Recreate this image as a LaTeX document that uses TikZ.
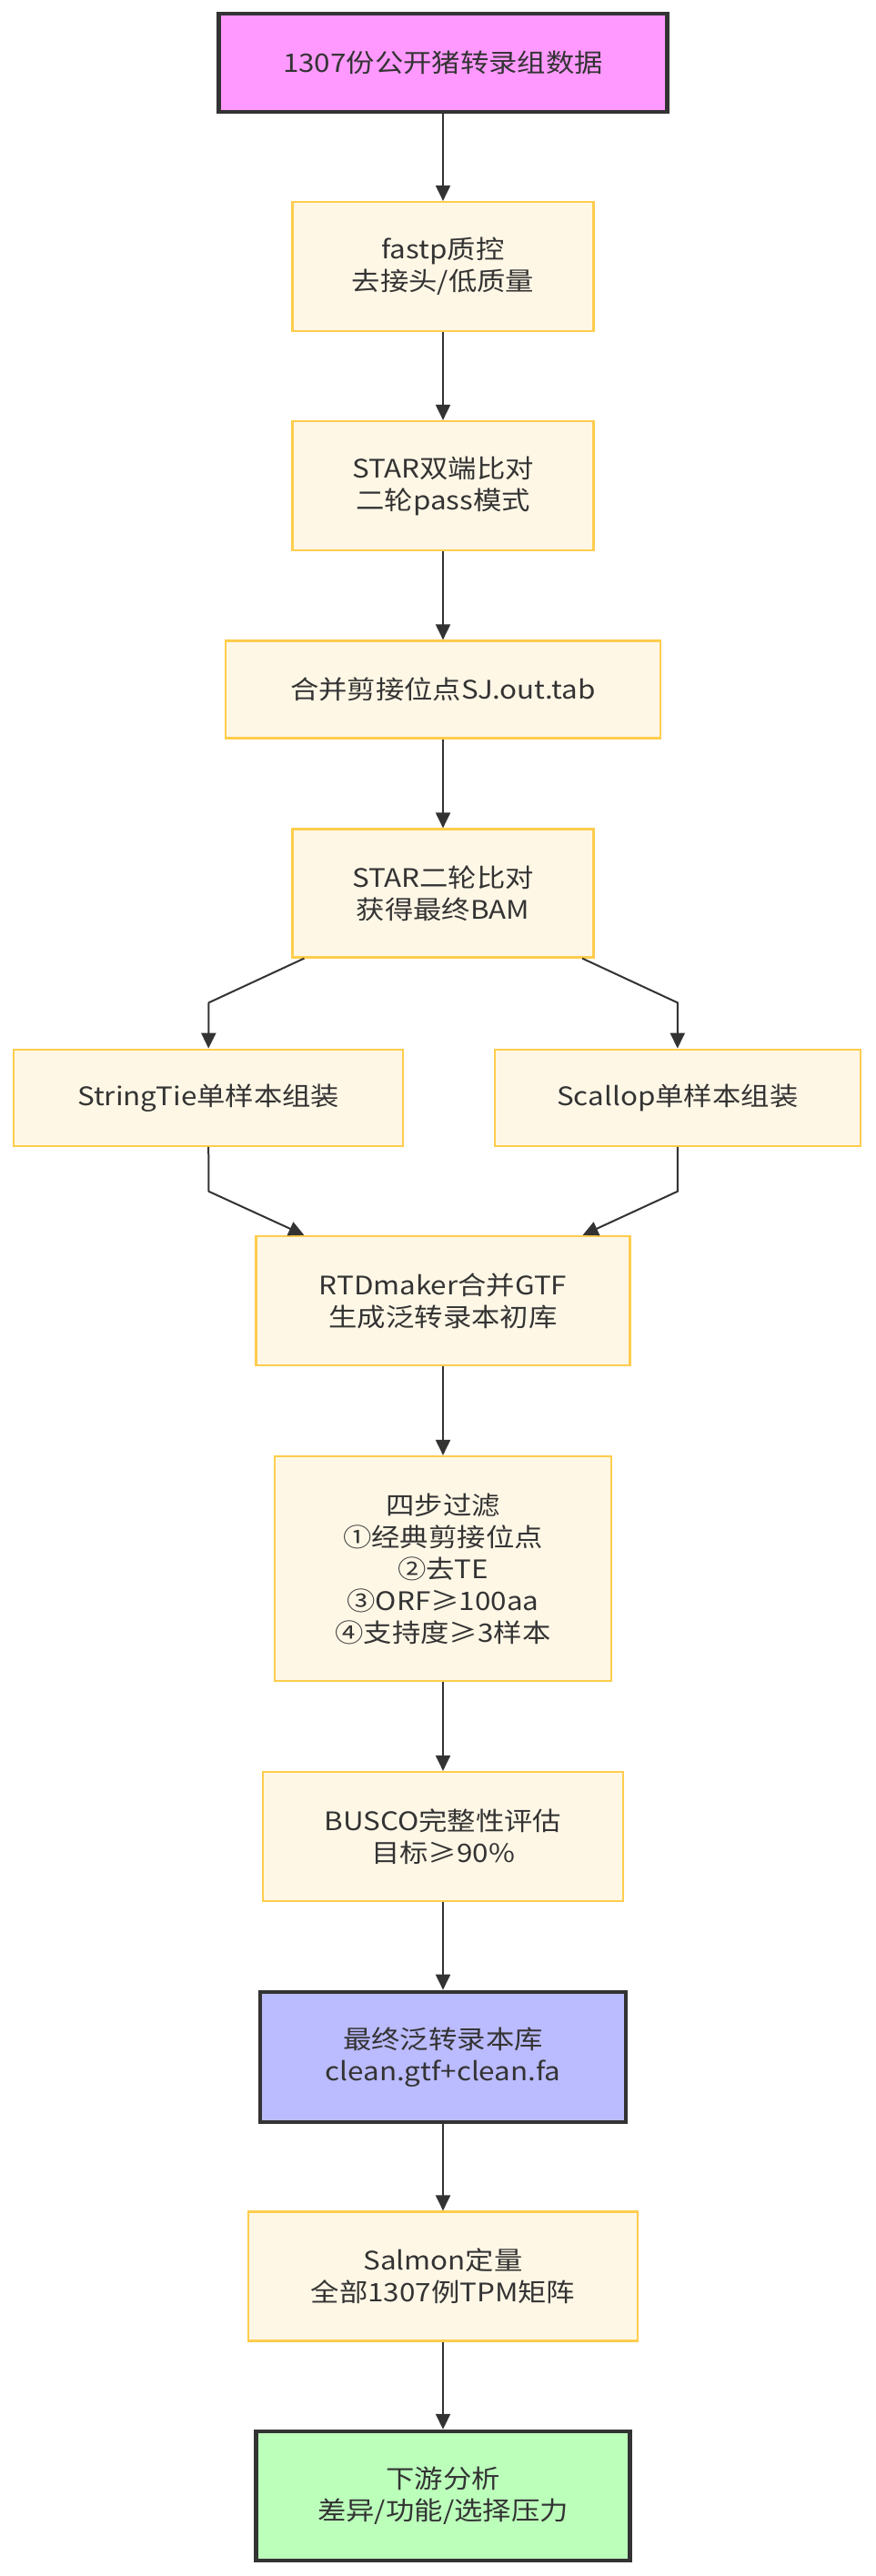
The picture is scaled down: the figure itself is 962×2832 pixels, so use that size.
\documentclass[tikz,border=0pt]{standalone}
\usepackage{fontspec}
\setmainfont{Noto Sans CJK SC}[FakeStretch=1.12]
\usetikzlibrary{arrows.meta}
\definecolor{txt}{HTML}{333333}
\definecolor{yfill}{HTML}{FFF7E6}
\definecolor{ydraw}{HTML}{FFCD4D}
\definecolor{pinkf}{HTML}{FF99FF}
\definecolor{bluef}{HTML}{BBBBFF}
\definecolor{greenf}{HTML}{BBFFBB}
\definecolor{dark}{HTML}{333333}
\begin{document}
\begin{tikzpicture}[x=1pt,y=-1pt,
  base/.style={rectangle, inner sep=0pt, align=center, text=txt,
    font=\fontsize{28}{35}\selectfont},
  ybox/.style={base, fill=yfill, draw=ydraw, line width=2.2pt},
  kbox/.style={base, draw=dark, line width=4.5pt},
  arr/.style={draw=dark, line width=2pt, -{Triangle[length=17pt,width=16pt]}}
]
\useasboundingbox[fill=white] (0,0) rectangle (962,2832);

\node[kbox, fill=pinkf, minimum width=493, minimum height=108] (n1) at (487,69) {1307份公开猪转录组数据};
\node[ybox, minimum width=331, minimum height=142] (n2) at (487,293) {fastp质控\\去接头/低质量};
\node[ybox, minimum width=331, minimum height=142] (n3) at (487,534) {STAR双端比对\\二轮pass模式};
\node[ybox, minimum width=478, minimum height=107] (n4) at (487,758) {合并剪接位点SJ.out.tab};
\node[ybox, minimum width=331, minimum height=141] (n5) at (487,982) {STAR二轮比对\\获得最终BAM};
\node[ybox, minimum width=428, minimum height=106] (n6) at (229.2,1206.7) {StringTie单样本组装};
\node[ybox, minimum width=402, minimum height=106] (n7) at (744.8,1206.7) {Scallop单样本组装};
\node[ybox, minimum width=411, minimum height=142] (n8) at (487,1430) {RTDmaker合并GTF\\生成泛转录本初库};
\node[ybox, minimum width=370, minimum height=247] (n9) at (487,1724.5) {四步过滤\\①经典剪接位点\\②去TE\\③ORF≥100aa\\④支持度≥3样本};
\node[ybox, minimum width=396, minimum height=142] (n10) at (487,2019) {BUSCO完整性评估\\目标≥90\%};
\node[kbox, fill=bluef, minimum width=402, minimum height=143] (n11) at (487,2261.4) {最终泛转录本库\\clean.gtf+clean.fa};
\node[ybox, minimum width=428, minimum height=142] (n12) at (487,2502.5) {Salmon定量\\全部1307例TPM矩阵};
\node[kbox, fill=greenf, minimum width=411, minimum height=142] (n13) at (487,2744) {下游分析\\差异/功能/选择压力};

\coordinate (b1) at (229.5,1102.3);
\coordinate (b2) at (744.8,1102.3);
\coordinate (j1) at (229.5,1309.8);
\coordinate (j2) at (744.8,1309.8);

\draw[arr] (n1) -- (n2);
\draw[arr] (n2) -- (n3);
\draw[arr] (n3) -- (n4);
\draw[arr] (n4) -- (n5);
\draw[arr] ([xshift=14pt]n5.south west) -- (b1) -- (n6.north);
\draw[arr] ([xshift=-13.5pt]n5.south east) -- (b2) -- (n7.north);
\draw[arr] (n6.south) -- (j1) -- ([xshift=54pt]n8.north west);
\draw[arr] (n7.south) -- (j2) -- ([xshift=-53pt]n8.north east);
\draw[arr] (n8) -- (n9);
\draw[arr] (n9) -- (n10);
\draw[arr] (n10) -- (n11);
\draw[arr] (n11) -- (n12);
\draw[arr] (n12) -- (n13);
\end{tikzpicture}
\end{document}
